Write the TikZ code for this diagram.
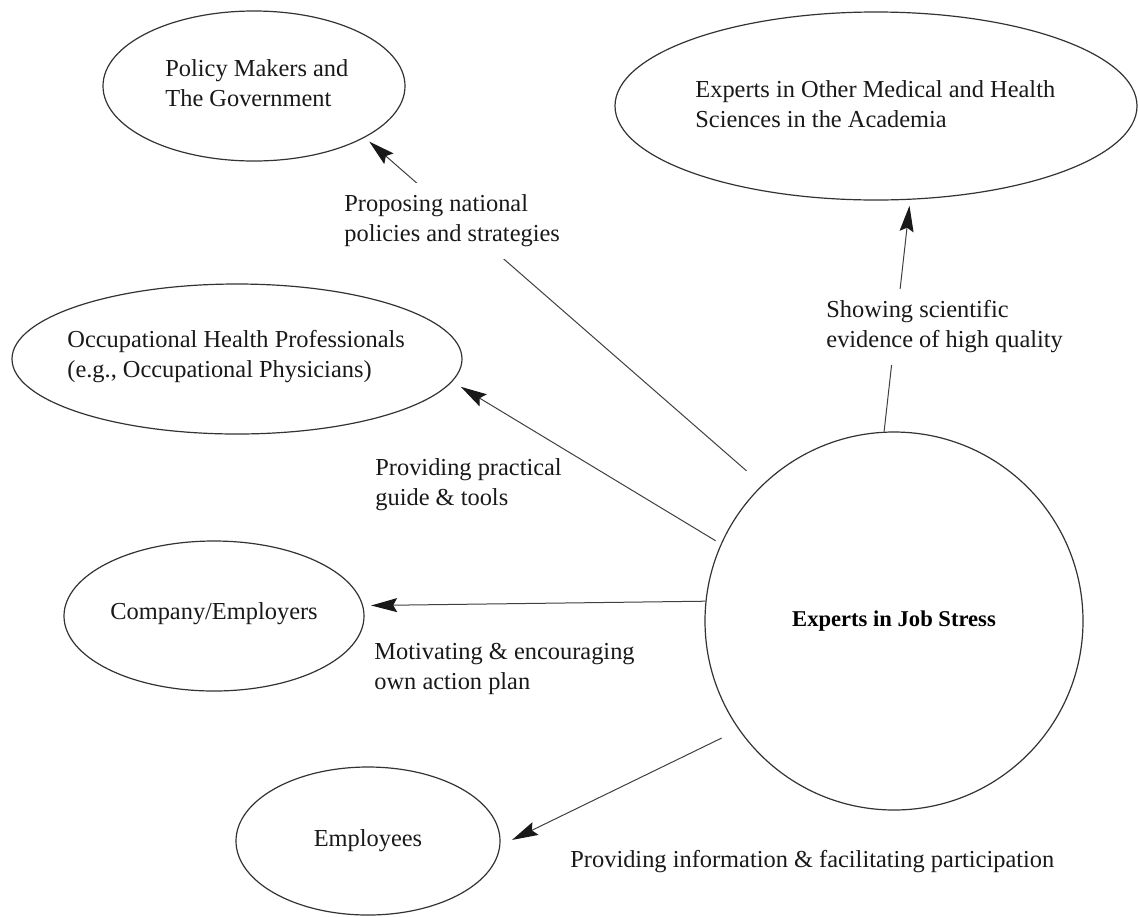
\documentclass[tikz,border=0pt]{standalone}
\usepackage{fontspec}
\setmainfont{Liberation Serif}
\usetikzlibrary{shapes.geometric,arrows.meta}
\begin{document}
\begin{tikzpicture}[x=0.5pt,y=-0.5pt,
  ell/.style={draw=black!80, line width=0.6pt, ellipse, inner sep=0pt},
  txt/.style={align=left, inner sep=0pt, text=black!90, font=\fontsize{12.2}{15}\selectfont},
  lab/.style={align=left, fill=white, inner sep=6pt, text=black!90, font=\fontsize{12.2}{15}\selectfont},
  conn/.style={draw=black!75, line width=0.5pt, -{Stealth[length=13pt,width=7pt,inset=2pt,color=black!90]}}
]
\useasboundingbox[fill=white] (0,0) rectangle (1138,916);

% target ellipses
\node[ell, minimum width=151pt, minimum height=75pt] (policy) at (254,86) {};
\node[ell, minimum width=261pt, minimum height=94pt] (other) at (876,106) {};
\node[ell, minimum width=225pt, minimum height=75pt] (occ) at (237,359) {};
\node[ell, minimum width=150pt, minimum height=75pt] (comp) at (214,616) {};
\node[ell, minimum width=132pt, minimum height=74pt] (emp) at (368,841) {};
\node[draw=black!80, line width=0.6pt, circle, inner sep=0pt, minimum size=189pt,
      font=\fontsize{11.3}{14}\selectfont\bfseries] (js) at (894,621) {Experts in Job Stress};

% texts of ellipses
\node[txt, anchor=west] (policyt) at (165,83) {Policy Makers and\\The Government};
\node[txt, anchor=west] (othert) at (695,104) {Experts in Other Medical and Health\\Sciences in the Academia};
\node[txt, anchor=west] (occt) at (67,357) {Occupational Health Professionals\\(e.g., Occupational Physicians)};
\node[txt] (compt) at (214,614) {Company/Employers};
\node[txt] (empt) at (368,841) {Employees};

% connectors
\draw[conn, shorten <=10.5pt, shorten >=3pt] (js.134) -- (policy.-25);
\draw[conn, shorten <=3pt, shorten >=5pt] (js.156) -- (occ.-6);
\draw[conn, shorten >=4pt] (js.174) -- (comp.4);
\draw[conn, shorten <=9.5pt, shorten >=6.5pt] (js.215) -- (emp.-2);
\draw[conn, shorten >=3pt] (js.93) -- (other.-70);

% labels
\node[lab, anchor=west] (l1) at (332,221) {Proposing national\\policies and strategies};
\node[lab, anchor=west] (l2) at (814,327) {Showing scientific\\evidence of high quality};
\node[txt, anchor=west] (l3) at (375,485) {Providing practical\\guide \& tools};
\node[txt, anchor=west] (l4) at (374,669) {Motivating \& encouraging\\own action plan};
\node[txt, anchor=west] (l5) at (570,862) {Providing information \& facilitating participation};
\end{tikzpicture}
\end{document}
